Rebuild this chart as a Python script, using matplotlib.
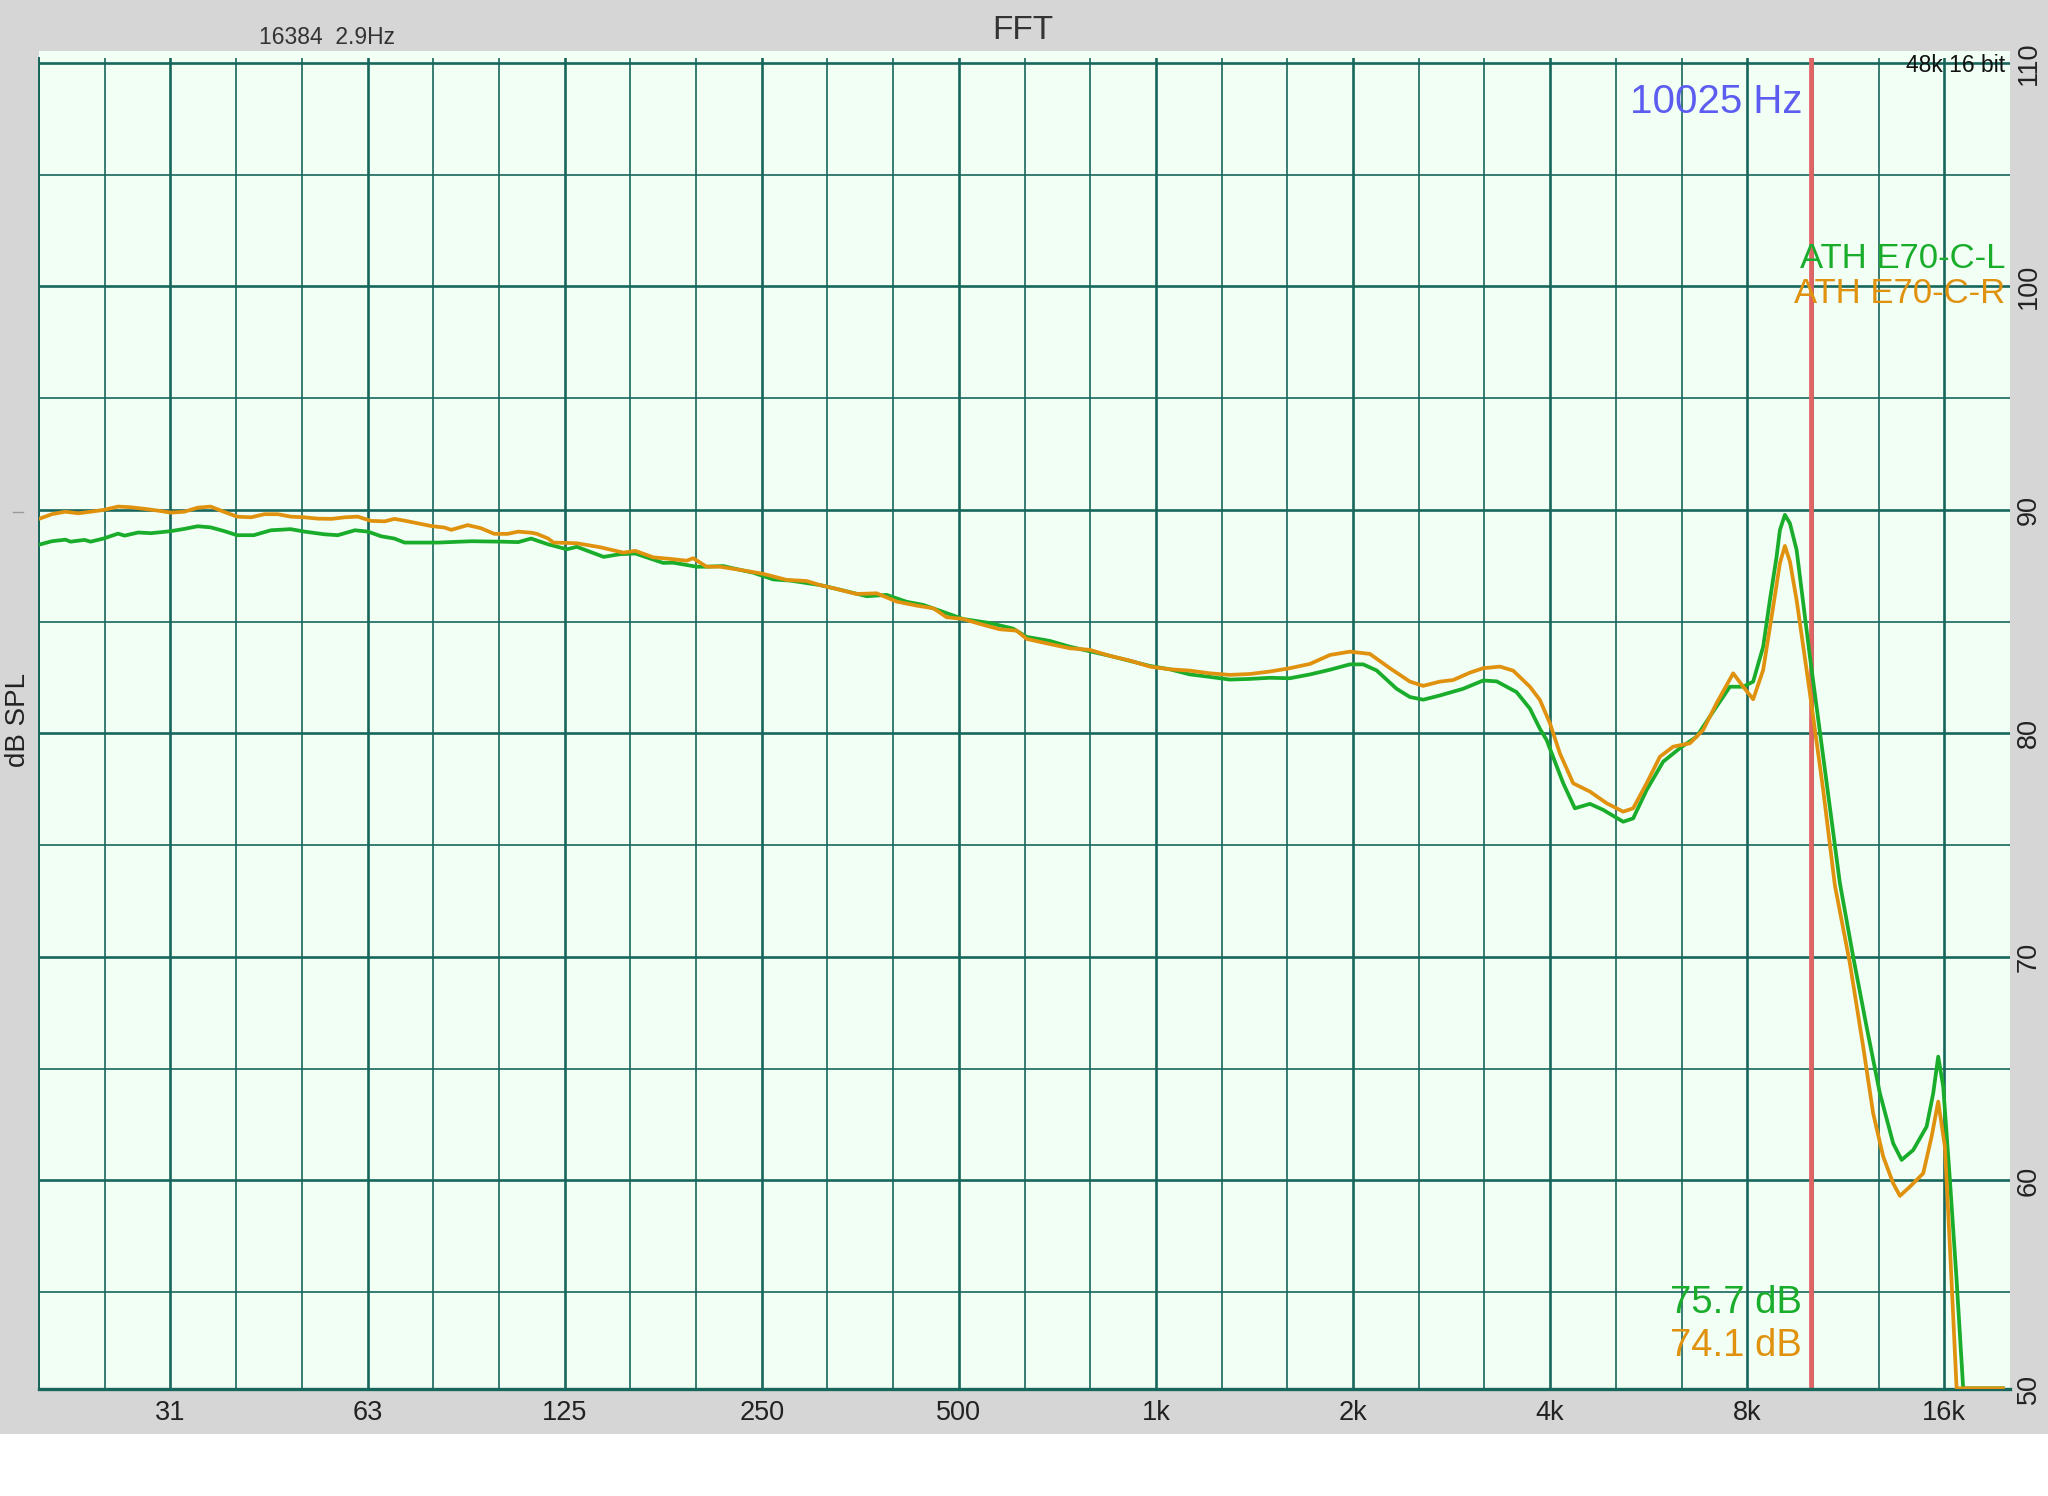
import matplotlib
matplotlib.use("Agg")
import matplotlib.pyplot as plt
from matplotlib.patches import Rectangle
from matplotlib.lines import Line2D

# ---------------- data ----------------
freq_L = [19.6, 20.6, 21.6, 22.0, 23.1, 23.6, 24.7, 26.0, 26.6, 27.9, 29.2, 31.3, 32.8, 34.4,
          36.0, 37.7, 39.5, 41.9, 44.5, 47.7, 50.1, 53.7, 56.3, 59.8, 62.6, 65.6, 68.7, 71.2,
          80.1, 90.1, 100.1, 106.2, 111.1, 118.0, 126.0, 130.5, 143.4, 152.0, 160.3, 176.8,
          183.1, 198.8, 205.9, 218.3, 231.6, 242.8, 260.4, 276.1, 292.7, 306.7, 329.3, 361.6,
          387.9, 416.3, 441.4, 467.9, 507.7, 557.6, 605.3, 634.6, 688.5, 739, 850.8, 979.2,
          1050, 1127, 1209, 1297, 1392, 1493, 1602, 1719, 1844, 1978, 2073, 2173, 2331, 2443,
          2560, 2715, 2947, 3162, 3315, 3555, 3726, 3859, 3951, 4189, 4364, 4601, 4821, 5172,
          5357, 5617, 5954, 6314, 6697, 7098, 7528, 7889, 8170, 8462, 8665, 8871, 8975, 9134,
          9297, 9518, 9974, 10451, 11083, 11613, 12173, 12757, 13368, 13770, 14342, 15035,
          15388, 15661, 15939, 16318, 16707, 17099, 19659]
spl_L = [88.43, 88.60, 88.67, 88.58, 88.66, 88.58, 88.72, 88.94, 88.85, 88.99, 88.96, 89.05,
         89.15, 89.27, 89.22, 89.06, 88.87, 88.87, 89.09, 89.14, 89.03, 88.91, 88.87, 89.09,
         89.03, 88.82, 88.72, 88.54, 88.54, 88.60, 88.58, 88.56, 88.72, 88.46, 88.24, 88.35,
         87.90, 88.02, 88.05, 87.63, 87.64, 87.46, 87.46, 87.49, 87.32, 87.19, 86.89, 86.84,
         86.73, 86.64, 86.43, 86.14, 86.20, 85.89, 85.75, 85.49, 85.12, 84.94, 84.69, 84.32,
         84.14, 83.88, 83.47, 83.02, 82.87, 82.64, 82.53, 82.41, 82.44, 82.49, 82.47, 82.64,
         82.85, 83.09, 83.09, 82.82, 82.00, 81.63, 81.51, 81.70, 82.00, 82.37, 82.33, 81.85,
         81.11, 80.21, 79.71, 77.77, 76.65, 76.85, 76.58, 76.05, 76.20, 77.47, 78.74, 79.34,
         79.86, 80.98, 82.09, 82.09, 82.32, 83.88, 85.97, 87.91, 89.10, 89.78, 89.40, 88.21,
         83.44, 78.96, 73.30, 70.01, 66.88, 63.90, 61.66, 60.92, 61.36, 62.41, 63.90, 65.54,
         64.20, 60.02, 55.55, 50.70, 50.70]

freq_R = [19.6, 20.6, 21.6, 22.6, 23.6, 24.7, 26.0, 27.2, 28.5, 29.9, 31.3, 32.8, 34.4, 36.0,
          37.7, 39.5, 41.5, 43.5, 45.6, 47.7, 50.1, 52.5, 55.1, 57.7, 60.4, 63.3, 66.4, 68.7,
          71.2, 74.6, 78.2, 82.0, 83.9, 88.9, 93.2, 97.6, 102.3, 106.2, 111.2, 113.4, 118.0,
          120.2, 130.5, 141.7, 153.7, 160.3, 170.7, 181.1, 192.0, 196.5, 205.9, 215.8, 231.6,
          251.4, 272.9, 292.7, 306.7, 321.7, 349.0, 374.6, 401.9, 431.2, 457.2, 479.0, 507.7,
          538.6, 577.6, 612.9, 634.6, 688.5, 739, 792.9, 850.8, 912.8, 979.2, 1050, 1127, 1209,
          1297, 1392, 1493, 1602, 1719, 1844, 1978, 2122, 2277, 2443, 2560, 2715, 2845, 3017,
          3162, 3353, 3513, 3726, 3859, 3997, 4140, 4338, 4601, 4879, 5172, 5357, 5617, 5886,
          6167, 6541, 6853, 7183, 7615, 7889, 8170, 8462, 8765, 8975, 9134, 9297, 9518, 9974,
          10451, 10890, 11479, 12028, 12459, 12906, 13368, 13687, 14177, 14857, 15301, 15661,
          16033, 16318, 16707, 19659]
spl_R = [89.58, 89.81, 89.92, 89.85, 89.92, 90.00, 90.15, 90.12, 90.05, 89.97, 89.88, 89.92,
         90.10, 90.15, 89.92, 89.70, 89.67, 89.81, 89.81, 89.70, 89.67, 89.61, 89.60, 89.67,
         89.70, 89.51, 89.49, 89.60, 89.52, 89.40, 89.28, 89.21, 89.11, 89.32, 89.18, 88.93,
         88.93, 89.03, 88.98, 88.93, 88.72, 88.54, 88.51, 88.33, 88.09, 88.17, 87.88, 87.81,
         87.73, 87.84, 87.46, 87.46, 87.32, 87.14, 86.87, 86.82, 86.64, 86.50, 86.24, 86.27,
         85.90, 85.72, 85.60, 85.20, 85.12, 84.90, 84.66, 84.60, 84.23, 84.00, 83.81, 83.74,
         83.47, 83.26, 82.99, 82.87, 82.81, 82.69, 82.62, 82.66, 82.77, 82.92, 83.11, 83.51,
         83.66, 83.56, 82.92, 82.32, 82.13, 82.32, 82.39, 82.72, 82.92, 82.99, 82.81, 82.09,
         81.50, 80.46, 79.11, 77.77, 77.40, 76.88, 76.50, 76.65, 77.77, 78.96, 79.41, 79.56,
         80.16, 81.35, 82.69, 82.09, 81.53, 82.84, 85.67, 87.62, 88.39, 87.69, 85.97, 81.80,
         77.47, 73.20, 69.72, 65.99, 63.00, 61.07, 59.87, 59.31, 59.72, 60.32, 61.96, 63.53,
         61.51, 57.04, 50.70, 50.70]

octave_ticks = [31.25, 62.5, 125, 250, 500, 1000, 2000, 4000, 8000, 16000]
octave_labels = ["31", "63", "125", "250", "500", "1k", "2k", "4k", "8k", "16k"]
db_ticks = [60, 70, 80, 90, 100, 110]
db_labels = ["60", "70", "80", "90", "100", "110"]
db_minor = [55, 65, 75, 85, 95, 105]
series_names = ["ATH E70-C-L", "ATH E70-C-R"]
readouts = ["75.7 dB", "74.1 dB"]
cursor_freq = 10025
title = "FFT"
info_left = "16384  2.9Hz"
info_right = "48k 16 bit"

# ---------------- style ----------------
W, H = 2048, 1496
GREEN = "#19ad2b"
ORANGE = "#e0920f"
GRID = "#17665c"
BG = "#f1fff5"
GRAY = "#d6d6d6"
RED = "#e06464"
FONT = ["Liberation Sans", "DejaVu Sans"]
plt.rcParams["font.family"] = FONT


def fx(x):
    return x / W


def fy(y):
    return 1 - y / H


fig = plt.figure(figsize=(W / 100, H / 100), dpi=100, facecolor="white")
fig.patches.append(Rectangle((0, fy(1434)), 1, 1434 / H, transform=fig.transFigure,
                             facecolor=GRAY, edgecolor="none", zorder=-10))
fig.patches.append(Rectangle((fx(39), fy(60)), (2010 - 39) / W, 9 / H, transform=fig.transFigure,
                             facecolor=BG, edgecolor="none", zorder=-9))

ax = fig.add_axes([fx(39), fy(1389), (2010 - 39) / W, (1389 - 58) / H])
ax.set_facecolor(BG)
ax.set_xscale("log")
xlo, xhi = 1000 * 2 ** (-17 / 3), 1000 * 2 ** (13 / 3)
ylo, yhi = 50.67, 110.22
ax.set_xlim(xlo, xhi)
ax.set_ylim(ylo, yhi)

# grid
third = [1000 * 2 ** (k / 3) for k in range(-17, 13)]
ax.set_xticks(octave_ticks)
ax.set_xticklabels(octave_labels)
ax.set_xticks([f for f in third if all(abs(f / o - 1) > 0.01 for o in octave_ticks)], minor=True)
ax.xaxis.set_minor_formatter(plt.NullFormatter())
ax.set_yticks([ylo] + db_ticks)
ax.set_yticklabels(["50"] + db_labels)
ax.set_yticks(db_minor, minor=True)
ax.yaxis.set_minor_formatter(plt.NullFormatter())
ax.grid(True, which="major", color=GRID, lw=1.9)
ax.grid(True, which="minor", color=GRID, lw=1.2)
ax.set_axisbelow(True)

ax.yaxis.tick_right()
ax.tick_params(axis="both", which="both", length=0)
ax.tick_params(axis="x", pad=8, labelsize=19.5, labelcolor="#222222")
ax.tick_params(axis="y", pad=4, labelsize=19.5, labelcolor="#222222")
for lab in ax.get_yticklabels():
    lab.set_rotation(90)
    lab.set_va("center")

for s in ["top", "right"]:
    ax.spines[s].set_visible(False)
ax.spines["bottom"].set_color(GRID)
ax.spines["bottom"].set_linewidth(2.4)
ax.spines["left"].set_color(GRID)
ax.spines["left"].set_linewidth(1.4)

# cursor
ax.axvline(cursor_freq, color=RED, lw=3.4, zorder=2)

# curves
ax.plot(freq_L, spl_L, color=GREEN, lw=2.7, zorder=3, solid_joinstyle="round")
ax.plot(freq_R, spl_R, color=ORANGE, lw=2.7, zorder=4, solid_joinstyle="round")

# texts
fig.text(fx(1023), fy(39), title, ha="center", va="baseline", fontsize=24, color="#333333")
fig.text(fx(259), fy(44), info_left, ha="left", va="baseline", fontsize=16.5, color="#333333")
fig.text(fx(2005), fy(72), info_right, ha="right", va="baseline", fontsize=16.5, color="#111111")
fig.text(fx(1802), fy(113), f"{cursor_freq} Hz", ha="right", va="baseline", fontsize=29,
         color="#5c5cf0")
fig.text(fx(2005), fy(268), series_names[0], ha="right", va="baseline", fontsize=25, color=GREEN)
fig.text(fx(2005), fy(303), series_names[1], ha="right", va="baseline", fontsize=25, color=ORANGE)
fig.text(fx(1802), fy(1313), readouts[0], ha="right", va="baseline", fontsize=27.5, color=GREEN)
fig.text(fx(1802), fy(1356), readouts[1], ha="right", va="baseline", fontsize=27.5, color=ORANGE)
fig.text(fx(18), fy(720), "dB SPL", ha="center", va="center", rotation=90, fontsize=20,
         color="#222222")
fig.lines.append(Line2D([fx(13), fx(23)], [fy(512), fy(512)], transform=fig.transFigure,
                        color="#999999", lw=1))

fig.savefig("out.png", dpi=100, facecolor=fig.get_facecolor())
